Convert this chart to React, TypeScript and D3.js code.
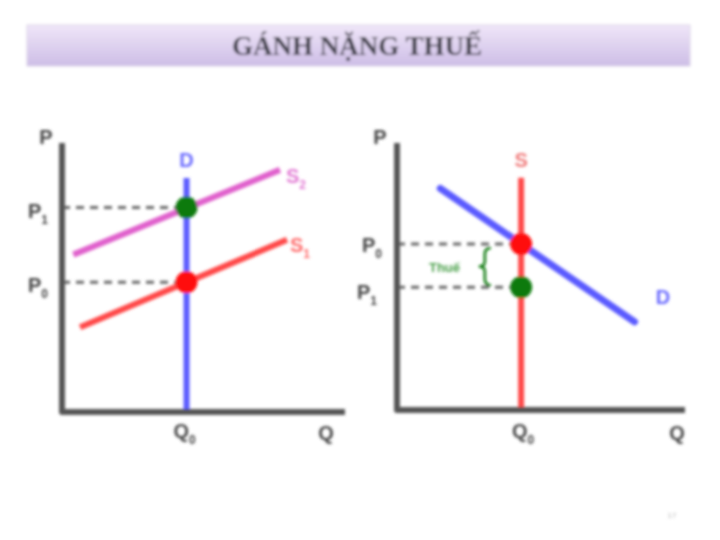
import React from "react";
import * as d3 from "d3";

// ---- data (abstract units 0..10 on each panel) ----
const titleText = "GÁNH NẶNG THUẾ";
// Left panel: tax on sellers with perfectly inelastic demand
const leftQ0 = 4.4;
const leftDemand = [[4.4, 0], [4.4, 8.7]];
const leftS1 = [[0.64, 3.15], [7.95, 6.4]];
const leftS2 = [[0.4, 5.85], [7.7, 9.0]];
const leftP0 = 4.82;
const leftP1 = 7.6;
// Right panel: perfectly inelastic supply
const rightQ0 = 4.31;
const rightSupply = [[4.31, 0], [4.31, 8.7]];
const rightDemand = [[1.5, 8.3], [8.25, 3.3]];
const rightP0 = 6.22;
const rightP1 = 4.6;
const pageNumber = "17";

const W = 720;
const H = 540;

const AXIS = "#555555";
const BLUE = "#5a5aff";
const RED = "#ff4848";
const MAG = "#e060cc";
const GREEN = "#0a7a0a";
const labelFont = "'Liberation Sans', Arial, sans-serif";

function Label({ x, y, main, sub, color = "#444", size = 20, anchor = "middle" }: any) {
  return (
    <text x={x} y={y} fill={color} fontFamily={labelFont} fontWeight="bold" fontSize={size} textAnchor={anchor}>
      {main}
      {sub !== undefined && (
        <tspan fontSize={size * 0.6} dy={size * 0.28}>{sub}</tspan>
      )}
    </text>
  );
}

export default function App() {
  // Left panel scales
  const lx = d3.scaleLinear().domain([0, 10]).range([62, 345]);
  const ly = d3.scaleLinear().domain([0, 10]).range([412, 143]);
  // Right panel scales
  const rx = d3.scaleLinear().domain([0, 10]).range([397, 685]);
  const ry = d3.scaleLinear().domain([0, 10]).range([410, 143]);

  const lLine = d3.line<number[]>().x((d) => lx(d[0])).y((d) => ly(d[1]));
  const rLine = d3.line<number[]>().x((d) => rx(d[0])).y((d) => ry(d[1]));

  const axisPath = (sx: any, sy: any, xmax: number) =>
    d3.line<number[]>().x((d) => sx(d[0])).y((d) => sy(d[1]))([[0, 10], [0, 0], [xmax, 0]]) as string;

  // brace for tax wedge (right panel)
  const bx = rx(3.05);
  const bTop = ry(rightP0) + 4;
  const bBot = ry(rightP1) - 2;
  const bMid = (bTop + bBot) / 2;
  const bw = 6;
  const bracePath = `M ${bx + bw} ${bTop} Q ${bx} ${bTop} ${bx} ${bTop + 6} L ${bx} ${bMid - 5} Q ${bx} ${bMid} ${bx - bw} ${bMid} Q ${bx} ${bMid} ${bx} ${bMid + 5} L ${bx} ${bBot - 6} Q ${bx} ${bBot} ${bx + bw} ${bBot}`;

  return (
    <svg width={W} height={H} style={{ position: "absolute", left: 0, top: 0, background: "#fff" }}>
      <defs>
        <linearGradient id="titleGrad" x1="0" y1="0" x2="0" y2="1">
          <stop offset="0%" stopColor="#efe6f8" />
          <stop offset="100%" stopColor="#cdbde6" />
        </linearGradient>
        <filter id="soft" x="-5%" y="-5%" width="110%" height="110%">
          <feGaussianBlur stdDeviation="1.7" />
        </filter>
      </defs>
      <rect x={0} y={0} width={W} height={H} fill="#fff" />
      <g filter="url(#soft)">
        {/* Title bar */}
        <rect x={27} y={25} width={663} height={41} fill="url(#titleGrad)" stroke="#dcd4e8" strokeWidth={1} />
        <text x={357} y={55} textAnchor="middle" fontFamily="'Liberation Serif', 'Times New Roman', serif" fontWeight="bold" fontSize={27} fill="#3a3a44">
          {titleText}
        </text>

        {/* ---------- Left panel ---------- */}
        <line x1={lx(0)} x2={lx(leftQ0)} y1={ly(leftP1)} y2={ly(leftP1)} stroke="#666" strokeWidth={3} strokeDasharray="8,6" />
        <line x1={lx(0)} x2={lx(leftQ0)} y1={ly(leftP0)} y2={ly(leftP0)} stroke="#666" strokeWidth={3} strokeDasharray="8,6" />
        <path d={lLine(leftS2 as any) as string} stroke={MAG} strokeWidth={6} fill="none" />
        <path d={lLine(leftS1 as any) as string} stroke={RED} strokeWidth={6} fill="none" />
        <path d={lLine(leftDemand as any) as string} stroke={BLUE} strokeWidth={6} fill="none" />
        <path d={axisPath(lx, ly, 10)} stroke={AXIS} strokeWidth={6} fill="none" strokeLinejoin="round" />
        <circle cx={lx(leftQ0)} cy={ly(leftP1)} r={11} fill={GREEN} />
        <circle cx={lx(leftQ0)} cy={ly(leftP0)} r={11} fill="#ff1010" />
        <Label x={46} y={144} main="P" />
        <Label x={38} y={218} main="P" sub="1" />
        <Label x={38} y={292} main="P" sub="0" />
        <Label x={lx(leftQ0) - 2} y={438} main="Q" sub="0" />
        <Label x={326} y={440} main="Q" />
        <Label x={lx(leftQ0)} y={167} main="D" color="#6a6aff" />
        <Label x={286} y={183} main="S" sub="2" color="#e27ad4" anchor="start" />
        <Label x={290} y={252} main="S" sub="1" color="#ff6a6a" anchor="start" />

        {/* ---------- Right panel ---------- */}
        <line x1={rx(0)} x2={rx(rightQ0)} y1={ry(rightP0)} y2={ry(rightP0)} stroke="#666" strokeWidth={3} strokeDasharray="8,6" />
        <line x1={rx(0)} x2={rx(rightQ0)} y1={ry(rightP1)} y2={ry(rightP1)} stroke="#666" strokeWidth={3} strokeDasharray="8,6" />
        <path d={rLine(rightSupply as any) as string} stroke={RED} strokeWidth={6} fill="none" />
        <path d={rLine(rightDemand as any) as string} stroke={BLUE} strokeWidth={7} fill="none" strokeLinecap="round" />
        <path d={axisPath(rx, ry, 10)} stroke={AXIS} strokeWidth={6} fill="none" strokeLinejoin="round" />
        <circle cx={rx(rightQ0)} cy={ry(rightP0)} r={11} fill="#ff1010" />
        <circle cx={rx(rightQ0)} cy={ry(rightP1)} r={11} fill={GREEN} />
        <path d={bracePath} stroke={GREEN} strokeWidth={2.5} fill="none" />
        <text x={rx(1.65)} y={bMid + 5} textAnchor="middle" fontFamily={labelFont} fontWeight="bold" fontSize={13} fill="#4aa04a">Thuế</text>
        <Label x={380} y={144} main="P" />
        <Label x={372} y={252} main="P" sub="0" />
        <Label x={367} y={299} main="P" sub="1" />
        <Label x={rx(rightQ0) + 2} y={438} main="Q" sub="0" />
        <Label x={677} y={440} main="Q" />
        <Label x={rx(rightQ0)} y={167} main="S" color="#f07a7a" />
        <Label x={663} y={304} main="D" color="#6a6aff" />

        <text x={672} y={518} textAnchor="middle" fontFamily={labelFont} fontSize={8} fill="#bbb">{pageNumber}</text>
      </g>
    </svg>
  );
}
